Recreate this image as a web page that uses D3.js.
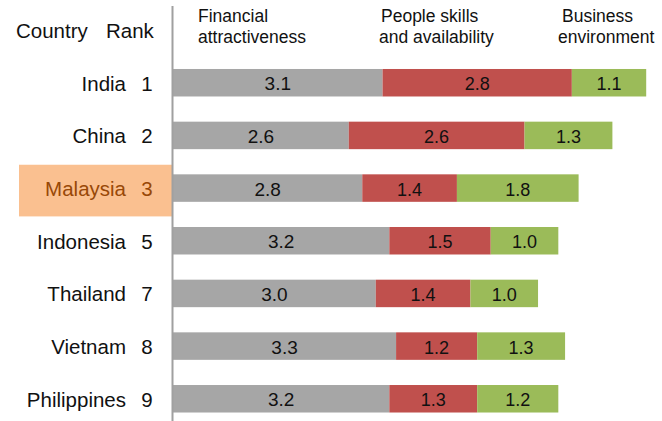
<!DOCTYPE html>
<html>
<head>
<meta charset="utf-8">
<script src="https://cdn.jsdelivr.net/npm/d3@7"></script>
<style>
  body { margin: 0; background: #fff; }
  text { font-family: "Liberation Sans", Arial, sans-serif; }
</style>
</head>
<body>
<div id="chart"></div>
<script>
var width = 662, height = 421;

// data
var countries = ["India", "China", "Malaysia", "Indonesia", "Thailand", "Vietnam", "Philippines"];
var ranks = [1, 2, 3, 5, 7, 8, 9];
var financial = [3.1, 2.6, 2.8, 3.2, 3.0, 3.3, 3.2];
var people = [2.8, 2.6, 1.4, 1.5, 1.4, 1.2, 1.3];
var business = [1.1, 1.3, 1.8, 1.0, 1.0, 1.3, 1.2];
var seriesNames = [["Financial", "attractiveness"], ["People skills", "and availability"], ["Business", "environment"]];
var colors = ["#A6A6A6", "#C0504D", "#9BBB59"];
var highlight = "Malaysia";

var svg = d3.select("#chart")
	.append("svg")
	.attr("width", width)
	.attr("height", height);

var x = d3.scaleLinear()
	.domain([0, 7])
	.range([173, 173 + 7 * 67.6]);

var y = d3.scaleBand()
	.domain(countries)
	.range([56.4, 425.1])
	.paddingInner(0.478)
	.paddingOuter(0.239);

var step = y.step();

// highlight box behind Malaysia
svg.append("rect")
	.attr("x", 19)
	.attr("y", y(highlight) + y.bandwidth() / 2 - step / 2 + 3)
	.attr("width", 172 - 19)
	.attr("height", step - 1)
	.attr("fill", "#FAC090");

// stacked rows
var rows = countries.map(function(c, i) {
	return { country: c, rank: ranks[i], values: [financial[i], people[i], business[i]] };
});

var stack = rows.map(function(r) {
	var x0 = 0;
	return r.values.map(function(v, k) {
		var seg = { country: r.country, k: k, v: v, x0: x0, x1: x0 + v };
		x0 += v;
		return seg;
	});
});

var segs = svg.selectAll(".seg")
	.data(d3.merge(stack))
	.enter().append("g")
	.attr("class", "seg");

segs.append("rect")
	.attr("x", function(d) { return x(d.x0); })
	.attr("y", function(d) { return y(d.country); })
	.attr("width", function(d) { return x(d.x1) - x(d.x0); })
	.attr("height", y.bandwidth())
	.attr("fill", function(d) { return colors[d.k]; });

segs.append("text")
	.attr("x", function(d) { return (x(d.x0) + x(d.x1)) / 2; })
	.attr("y", function(d) { return y(d.country) + y.bandwidth() / 2 + 7.5; })
	.attr("text-anchor", "middle")
	.attr("font-size", function(d) { return d.k == 0 ? "19px" : "18px"; })
	.attr("fill", "#111")
	.text(function(d) { return d.v.toFixed(1); });

// country names and ranks
svg.selectAll(".country")
	.data(rows)
	.enter().append("text")
	.attr("class", "country")
	.attr("x", 126)
	.attr("y", function(d) { return y(d.country) + y.bandwidth() / 2 + 8; })
	.attr("text-anchor", "end")
	.attr("font-size", "20.5px")
	.attr("fill", function(d) { return d.country == highlight ? "#984807" : "#111"; })
	.text(function(d) { return d.country; });

svg.selectAll(".rank")
	.data(rows)
	.enter().append("text")
	.attr("class", "rank")
	.attr("x", 147)
	.attr("y", function(d) { return y(d.country) + y.bandwidth() / 2 + 8; })
	.attr("text-anchor", "middle")
	.attr("font-size", "20.5px")
	.attr("fill", function(d) { return d.country == highlight ? "#984807" : "#111"; })
	.text(function(d) { return d.rank; });

// axis line
svg.append("line")
	.attr("x1", 172.5)
	.attr("y1", 6)
	.attr("x2", 172.5)
	.attr("y2", height)
	.attr("stroke", "#A0A0A0")
	.attr("stroke-width", 2);

// headers
svg.append("text")
	.attr("x", 16)
	.attr("y", 38)
	.attr("font-size", "20.5px")
	.attr("fill", "#111")
	.text("Country");
svg.append("text")
	.attr("x", 106)
	.attr("y", 38)
	.attr("font-size", "20.5px")
	.attr("fill", "#111")
	.text("Rank");

var headX = [[198, 198], [381, 379], [562, 558]];
seriesNames.forEach(function(lines, k) {
	var t = svg.append("text")
		.attr("y", 22)
		.attr("font-size", "17.5px")
		.attr("fill", "#111");
	lines.forEach(function(s, j) {
		t.append("tspan")
			.attr("x", headX[k][j])
			.attr("dy", j == 0 ? 0 : 21)
			.text(s);
	});
});
</script>
</body>
</html>
